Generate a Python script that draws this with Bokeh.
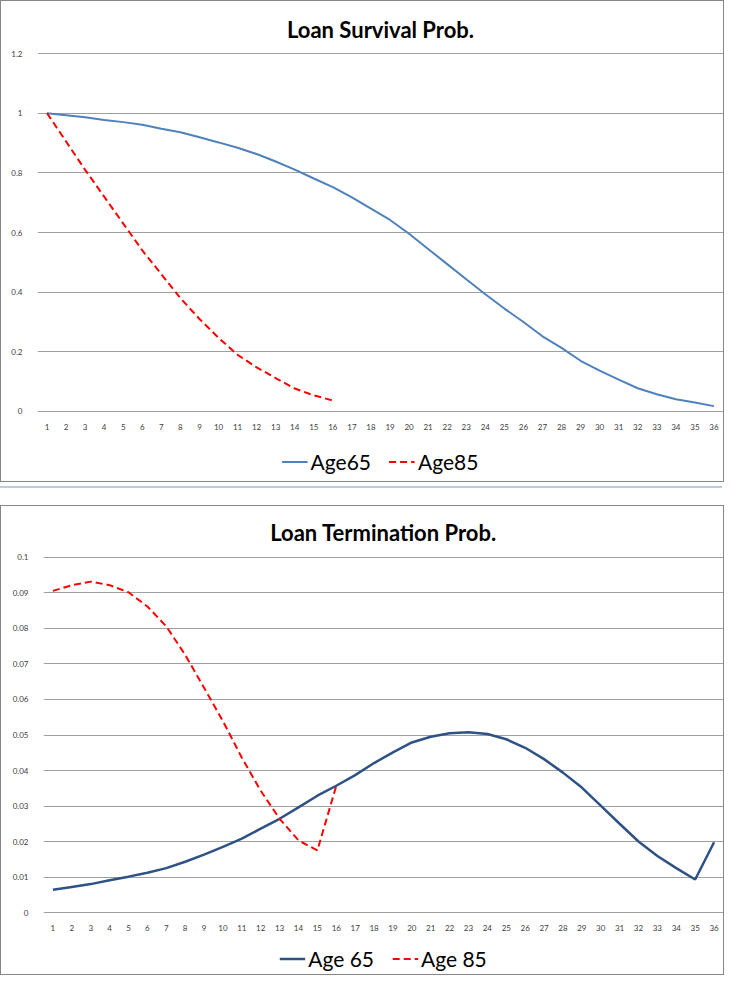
from bokeh.plotting import figure
from bokeh.models import FixedTicker, NumeralTickFormatter, Legend, LegendItem, Range1d, Div
from bokeh.layouts import column
from bokeh.embed import file_html
from bokeh.resources import INLINE

periods = list(range(1, 37))
periods_85 = list(range(1, 17))

surv_age65 = [1.0, 0.993, 0.986, 0.977, 0.970, 0.961, 0.948, 0.936, 0.919, 0.902,
              0.884, 0.863, 0.838, 0.811, 0.781, 0.752, 0.718, 0.680, 0.642, 0.596,
              0.545, 0.494, 0.443, 0.393, 0.345, 0.300, 0.252, 0.213, 0.170, 0.137,
              0.107, 0.078, 0.058, 0.041, 0.030, 0.018]
surv_age85 = [1.0, 0.905, 0.81, 0.72, 0.63, 0.54, 0.46, 0.38, 0.31, 0.247,
              0.19, 0.148, 0.112, 0.077, 0.054, 0.037]

term_age65 = [0.0064, 0.0072, 0.0080, 0.0091, 0.0101, 0.0112, 0.0125, 0.0143, 0.0163, 0.0185,
              0.0208, 0.0236, 0.0264, 0.0296, 0.0329, 0.0357, 0.0387, 0.0421, 0.0451, 0.0479,
              0.0495, 0.0505, 0.0508, 0.0503, 0.0488, 0.0464, 0.0432, 0.0394, 0.0352, 0.0301,
              0.0250, 0.0200, 0.0159, 0.0125, 0.0093, 0.0198]
term_age85 = [0.0906, 0.0922, 0.0932, 0.0922, 0.0902, 0.0862, 0.0806, 0.0726, 0.0633, 0.0539,
              0.0436, 0.0343, 0.0264, 0.0203, 0.0175, 0.0357]

surv_ticks = [0, 0.2, 0.4, 0.6, 0.8, 1, 1.2]
term_ticks = [0, 0.01, 0.02, 0.03, 0.04, 0.05, 0.06, 0.07, 0.08, 0.09, 0.1]

FONT = "Lato"
W = 722


def make_fig(title, height, y0, y1, yticks, border_left, border_top, border_bottom, standoff):
    p = figure(width=W, height=height, output_backend="svg", toolbar_location=None,
               x_range=Range1d(0.5, 36.5), y_range=Range1d(y0, y1),
               min_border_left=border_left, min_border_right=0,
               min_border_top=border_top, min_border_bottom=border_bottom,
               title=title)
    p.title.align = "center"
    p.title.text_font = FONT
    p.title.text_font_size = "22px"
    p.title.text_font_style = "bold"
    p.title.text_color = "#000000"
    p.title.standoff = standoff
    p.outline_line_color = None
    p.xgrid.grid_line_color = None
    p.ygrid.grid_line_color = "#a0a0a0"
    p.ygrid.grid_line_width = 1
    p.yaxis.ticker = FixedTicker(ticks=yticks)
    p.yaxis.formatter = NumeralTickFormatter(format="0.[00]")
    p.xaxis.ticker = FixedTicker(ticks=periods)
    for ax in (p.xaxis[0], p.yaxis[0]):
        ax.axis_line_color = None
        ax.major_tick_line_color = None
        ax.minor_tick_line_color = None
        ax.major_label_text_font = FONT
        ax.major_label_text_font_size = "8px"
        ax.major_label_text_color = "#404040"
    p.xaxis.major_label_standoff = 5
    p.yaxis.major_label_standoff = 9
    return p


def make_legend(height, border_left, labels, series, styles):
    # legend-only strip: series are plotted outside its (hidden) ranges so
    # only the legend samples show
    lf = figure(width=W, height=height, output_backend="svg", toolbar_location=None,
                x_range=Range1d(100, 101), y_range=Range1d(100, 101),
                min_border_left=border_left, min_border_right=0,
                min_border_top=0, min_border_bottom=0)
    lf.axis.visible = False
    lf.grid.grid_line_color = None
    lf.outline_line_color = None
    items = []
    for lab, (xs, ys), st in zip(labels, series, styles):
        r = lf.line(x=xs, y=ys, **st)
        items.append(LegendItem(label=lab, renderers=[r]))
    leg = Legend(items=items, orientation="horizontal", location="center",
                 label_text_font=FONT, label_text_font_size="21px",
                 label_text_color="#000000",
                 glyph_width=26, label_standoff=3, spacing=18,
                 border_line_color=None, background_fill_alpha=0, margin=0, padding=0)
    lf.add_layout(leg, "center")
    return lf


style_65a = dict(line_color="#4f81bd", line_width=2)
style_85 = dict(line_color="#ff0000", line_width=2, line_dash="7 4")
style_65b = dict(line_color="#2f5286", line_width=2.5)

p1 = make_fig("Loan Survival Prob.", 440, -0.0034, 1.2034, surv_ticks, 36, 51, 29, 19)
p1.line(periods, surv_age65, **style_65a)
p1.line(periods_85, surv_age85, **style_85)
leg1 = make_legend(40, 29, ["Age65", "Age85"],
                   [(periods, surv_age65), (periods_85, surv_age85)],
                   [style_65a, style_85])

p2 = make_fig("Loan Termination Prob.", 436, -0.00028, 0.10028, term_ticks, 42, 49, 29, 21)
p2.line(periods, term_age65, **style_65b)
p2.line(periods_85, term_age85, **style_85)
leg2 = make_legend(32, 15, ["Age 65", "Age 85"],
                   [(periods, term_age65), (periods_85, term_age85)],
                   [style_65b, style_85])

box_style = {"border": "1px solid #878787"}
box1 = column(p1, leg1, spacing=0, styles=box_style)
sep = Div(text="", width=W, height=2, margin=(4, 0, 17, 0),
          styles={"background-color": "#b8cce4"})
box2 = column(p2, leg2, spacing=0, styles=box_style)

layout = column(box1, sep, box2, spacing=0)
open("out.html", "w").write(file_html(layout, INLINE))
